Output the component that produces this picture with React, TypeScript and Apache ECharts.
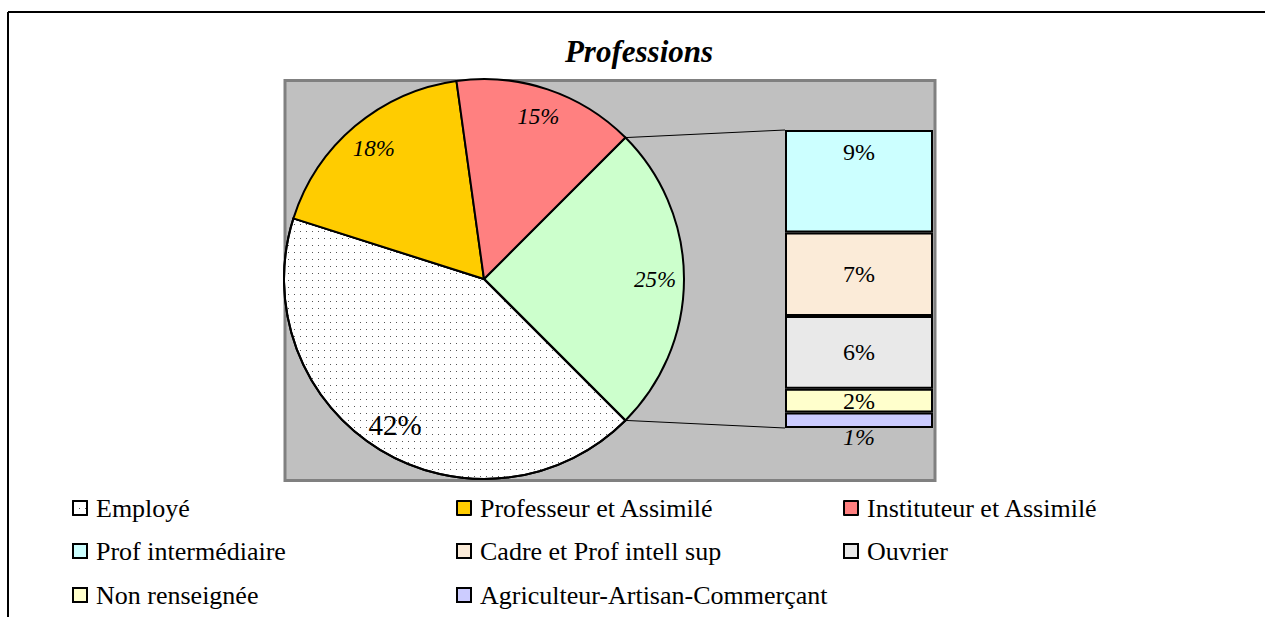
import React, { useEffect, useRef } from 'react';
import * as echarts from 'echarts';

// ---- data ----
const titleText = 'Professions';
const pieNames = ['Autres', 'Employé', 'Professeur et Assimilé', 'Instituteur et Assimilé'];
const pieValues = [25, 42.4, 17.9, 14.7];
const pieLabels = ['25%', '42%', '18%', '15%'];
const pieColors = ['#CCFFCC', '#FFFFFF', '#FFCC00', '#FF8080'];

// bottom -> top of the stacked bar
const barNames = ['Agriculteur-Artisan-Commerçant', 'Non renseignée', 'Ouvrier', 'Cadre et Prof intell sup', 'Prof intermédiaire'];
const barValues = [1.3, 2.0, 6.1, 7.0, 8.6];
const barLabels = ['1%', '2%', '6%', '7%', '9%'];
const barColors = ['#CCCCFF', '#FFFFCC', '#E9E9E9', '#FBEBD8', '#CCFFFF'];

const legendRows = [
  ['Employé', 'Professeur et Assimilé', 'Instituteur et Assimilé'],
  ['Prof intermédiaire', 'Cadre et Prof intell sup', 'Ouvrier'],
  ['Non renseignée', 'Agriculteur-Artisan-Commerçant'],
];

// ---- layout ----
const W = 1265;
const H = 617;
const PIE_CX = 484;
const PIE_CY = 279;
const PIE_R = 200;
const START_ANGLE = 45;
const BAR_LEFT = 785;
const BAR_TOP = 130;
const BAR_W = 148;
const BAR_H = 298;
const FONT = '"Liberation Serif", "Times New Roman", serif';
const legendLefts = [72, 456, 843];
const legendRowCenters = [508, 551, 595];

export default function App() {
  const ref = useRef<HTMLDivElement>(null);

  useEffect(() => {
    if (!ref.current) return;
    const chart = echarts.init(ref.current, undefined, { renderer: 'svg', width: W, height: H });

    const barTotal = barValues.reduce((a, b) => a + b, 0);
    const rad = (START_ANGLE * Math.PI) / 180;
    const topPt = [PIE_CX + PIE_R * Math.cos(rad), PIE_CY - PIE_R * Math.sin(rad)];
    const botPt = [PIE_CX + PIE_R * Math.cos(rad), PIE_CY + PIE_R * Math.sin(rad)];

    const pieData = pieNames.map((n, i) => ({
      name: n,
      value: pieValues[i],
      itemStyle:
        n === 'Employé'
          ? {
              color: pieColors[i],
              decal: {
                symbol: 'rect',
                symbolSize: 1,
                color: '#555555',
                dashArrayX: [1, 5],
                dashArrayY: [1, 6],
                rotation: 0,
              },
            }
          : { color: pieColors[i] },
    }));

    const labelData = pieNames.map((n, i) => ({
      name: n,
      value: pieValues[i],
      label: {
        formatter: pieLabels[i],
        fontStyle: n === 'Employé' ? 'normal' : 'italic',
        fontSize: n === 'Employé' ? 29 : 23,
      },
    }));

    const barSeries = barNames.map((n, i) => {
      let label: any = { show: true, position: 'inside', formatter: barLabels[i] };
      if (i === barNames.length - 1) label = { show: true, position: 'insideTop', distance: 10, formatter: barLabels[i] };
      if (i === 0) label = { show: true, position: 'bottom', distance: -3, fontStyle: 'italic', formatter: barLabels[i] };
      return {
        type: 'bar',
        name: n,
        stack: 'autres',
        barWidth: '100%',
        data: [barValues[i]],
        itemStyle: { color: barColors[i], borderColor: '#000', borderWidth: 2 },
        label: { ...label, fontFamily: FONT, fontSize: 24, color: '#000' },
        emphasis: { disabled: true },
        z: 3,
      };
    });

    const legends: any[] = [];
    legendRows.forEach((row, ri) => {
      row.forEach((name, ci) => {
        legends.push({
          orient: 'horizontal',
          left: legendLefts[ci],
          top: legendRowCenters[ri] - 15,
          padding: 0,
          data: [name],
          icon: 'rect',
          itemWidth: 14,
          itemHeight: 14,
          selectedMode: false,
          itemStyle: { borderColor: '#000', borderWidth: 2 },
          textStyle: { fontFamily: FONT, fontSize: 26, color: '#000', lineHeight: 30, padding: [0, 0, 0, 4] },
        });
      });
    });

    chart.setOption({
      animation: false,
      backgroundColor: '#FFFFFF',
      textStyle: { fontFamily: FONT },
      grid: { left: BAR_LEFT, top: BAR_TOP, width: BAR_W, height: BAR_H, containLabel: false },
      xAxis: { type: 'category', data: ['Autres'], show: false },
      yAxis: { type: 'value', min: 0, max: barTotal, show: false },
      legend: legends,
      graphic: [
        // outer frame
        { type: 'line', z: 10, shape: { x1: 8, y1: 12, x2: W, y2: 12 }, style: { stroke: '#000', lineWidth: 2 } },
        { type: 'line', z: 10, shape: { x1: 8, y1: 12, x2: 8, y2: H }, style: { stroke: '#000', lineWidth: 2 } },
        // plot area
        {
          type: 'rect',
          z: -10,
          shape: { x: 285, y: 80.5, width: 650, height: 400 },
          style: { fill: '#C0C0C0', stroke: '#808080', lineWidth: 3 },
        },
        // connector lines
        { type: 'line', z: 1, shape: { x1: topPt[0], y1: topPt[1], x2: BAR_LEFT, y2: BAR_TOP }, style: { stroke: '#000', lineWidth: 1 } },
        { type: 'line', z: 1, shape: { x1: botPt[0], y1: botPt[1], x2: BAR_LEFT, y2: BAR_TOP + BAR_H }, style: { stroke: '#000', lineWidth: 1 } },
        // title
        {
          type: 'text',
          x: 639,
          y: 51,
          style: {
            text: titleText,
            textAlign: 'center',
            textVerticalAlign: 'middle',
            font: `italic bold 31px ${FONT}`,
            fill: '#000',
          },
        },
      ],
      series: [
        {
          type: 'pie',
          name: 'Professions',
          center: [PIE_CX, PIE_CY],
          radius: [0, PIE_R],
          startAngle: START_ANGLE,
          clockwise: true,
          data: pieData,
          label: { show: false },
          labelLine: { show: false },
          itemStyle: { borderColor: '#000', borderWidth: 2 },
          emphasis: { disabled: true },
          z: 2,
        },
        {
          type: 'pie',
          name: 'labels',
          center: [PIE_CX, PIE_CY],
          radius: [PIE_R * 0.68, PIE_R],
          startAngle: START_ANGLE,
          clockwise: true,
          silent: true,
          data: labelData,
          itemStyle: { color: 'rgba(0,0,0,0)', borderWidth: 0 },
          label: { show: true, position: 'inside', fontFamily: FONT, color: '#000' },
          labelLine: { show: false },
          emphasis: { disabled: true },
          z: 4,
        },
        ...barSeries,
      ],
    });

    return () => chart.dispose();
  }, []);

  return (
    <div
      ref={ref}
      style={{ position: 'fixed', left: 0, top: 0, width: W, height: H, background: '#fff' }}
    />
  );
}
